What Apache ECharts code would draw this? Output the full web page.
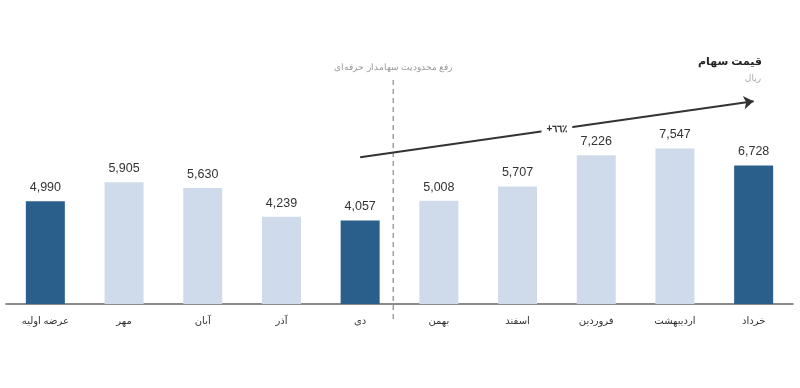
<!DOCTYPE html>
<html>
<head>
<meta charset="utf-8">
<script src="https://cdn.jsdelivr.net/npm/echarts@6/dist/echarts.min.js"></script>
<style>html,body{margin:0;padding:0;background:#fff}#c{width:800px;height:388px}</style>
</head>
<body>
<div id="c"></div>
<script>
const categories = ['عرضه اولیه','مهر','آبان','آذر','دی','بهمن','اسفند','فروردین','اردیبهشت','خرداد'];
const values = [4990,5905,5630,4239,4057,5008,5707,7226,7547,6728];
const highlighted = [true,false,false,false,true,false,false,false,false,true];
const arrowFrom = {cat:'دی', value:7120};
const arrowTo = {cat:'خرداد', value:9840};
const arrowLabel = '+٦٦٪';
const dividerText = 'رفع محدودیت سهامدار حرفه‌ای';
const titleText = 'قیمت سهام';
const unitText = 'ریال';

const DARK = '#2a5f8c', LIGHT = '#cfdbea';
const chart = echarts.init(document.getElementById('c'));
chart.setOption({
  animation:false,
  textStyle:{fontFamily:'Arial, "Liberation Sans", "DejaVu Sans", sans-serif'},
  title:[
    {text:titleText, right:33, top:51, textStyle:{fontSize:11, fontWeight:'bold', color:'#222'}},
    {text:unitText, right:34, top:69, textStyle:{fontSize:9, fontWeight:'normal', color:'#aaa'}}
  ],
  grid:{left:6, right:7, top:98, bottom:84},
  xAxis:{type:'category', data:categories,
    axisLine:{lineStyle:{color:'#666', width:1.5}}, axisTick:{show:false},
    axisLabel:{color:'#333', fontSize:10, margin:12}},
  yAxis:{type:'value', min:0, max:10000, show:false, splitLine:{show:false}},
  series:[{
    type:'bar', barWidth:39,
    data: values.map((v,i)=>({value:v, itemStyle:{color: highlighted[i]?DARK:LIGHT}})),
    label:{show:true, position:'top', distance:7, color:'#333', fontSize:12.5,
      formatter:p=>p.value.toLocaleString('en-US')},
    markLine:{silent:true, symbol:['none','arrow'], symbolSize:10,
      lineStyle:{color:'#333', width:2, type:'solid'},
      label:{show:false},
      data:[[{coord:[arrowFrom.cat, arrowFrom.value]},{coord:[arrowTo.cat, arrowTo.value]}]]}
  }]
});
const p1 = chart.convertToPixel({gridIndex:0}, [arrowFrom.cat, arrowFrom.value]);
const p2 = chart.convertToPixel({gridIndex:0}, [arrowTo.cat, arrowTo.value]);
const xa = chart.convertToPixel({xAxisIndex:0}, categories[4]);
const xb = chart.convertToPixel({xAxisIndex:0}, categories[5]);
const xd = xa + (xb - xa) * 0.42;
chart.setOption({graphic:[
  {type:'line', shape:{x1:xd, y1:80, x2:xd, y2:322}, style:{stroke:'#888', lineWidth:1.2, lineDash:[5,4]}},
  {type:'text', x:xd, y:68, style:{text:dividerText, fill:'#999', fontSize:8.5, align:'center', verticalAlign:'middle'}},
  {type:'text', x:(p1[0]+p2[0])/2, y:(p1[1]+p2[1])/2, z:10,
    style:{text:arrowLabel, fill:'#333', fontSize:10, fontWeight:'bold', align:'center', verticalAlign:'middle',
      backgroundColor:'#fff', padding:[2,5]}}
]});
</script>
</body>
</html>
